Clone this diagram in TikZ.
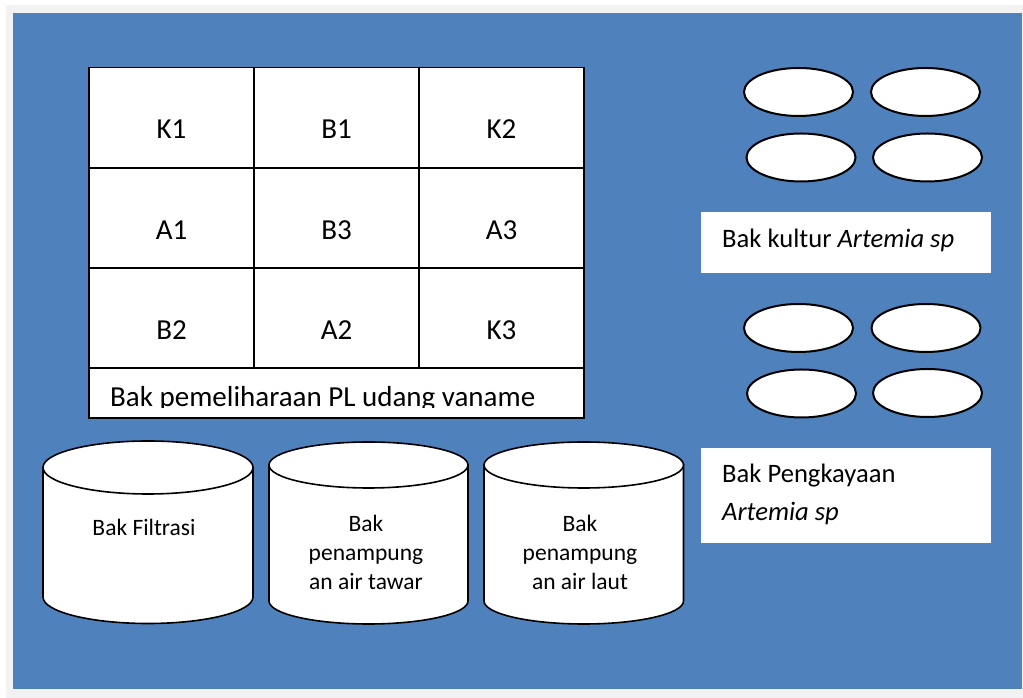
\documentclass[tikz,border=0pt]{standalone}
\usepackage{fontspec}
\setmainfont{Carlito}
\usetikzlibrary{shapes.geometric}
\definecolor{bgblue}{HTML}{4F81BD}
\definecolor{framegray}{HTML}{F2F2F2}
\tikzset{
  cellbox/.style={draw=black,line width=1.6pt,fill=white,minimum width=165pt,minimum height=100pt,inner sep=0pt},
  bigtext/.style={font=\fontsize{29}{35}\selectfont,inner sep=0pt,anchor=base},
  boxtext/.style={font=\fontsize{26.6}{32}\selectfont,inner sep=0pt,anchor=base west},
  smalltext/.style={font=\fontsize{23.5}{29}\selectfont,inner sep=0pt,anchor=base},
  pond/.style={ellipse,draw=black,line width=2pt,fill=white,minimum width=109pt,minimum height=48pt,inner sep=0pt},
  labelbox/.style={fill=white,inner sep=0pt},
  tank/.style={draw=black,line width=1.6pt,fill=white},
}
\begin{document}
\begin{tikzpicture}[x=1pt,y=1pt]
\useasboundingbox (0,0) rectangle (1023,698);
\fill[white] (0,0) rectangle (1023,698);
\fill[framegray] (6,0) rectangle (1023,693);
\fill[bgblue] (13,9) rectangle (1022,685);

% grid
\node[cellbox] (c11) at (171.5,580.5) {};
\node[cellbox] (c12) at (336.5,580.5) {};
\node[cellbox] (c13) at (501.5,580.5) {};
\node[cellbox] (c21) at (171.5,480) {};
\node[cellbox] (c22) at (336.5,480) {};
\node[cellbox] (c23) at (501.5,480) {};
\node[cellbox] (c31) at (171.5,380) {};
\node[cellbox] (c32) at (336.5,380) {};
\node[cellbox] (c33) at (501.5,380) {};
\node[bigtext] (t11) at (171.5,559.7) {K1};
\node[bigtext] (t12) at (336.5,559.7) {B1};
\node[bigtext] (t13) at (501.5,559.7) {K2};
\node[bigtext] (t21) at (171.5,458.7) {A1};
\node[bigtext] (t22) at (336.5,458.7) {B3};
\node[bigtext] (t23) at (501.5,458.7) {A3};
\node[bigtext] (t31) at (171.5,358.7) {B2};
\node[bigtext] (t32) at (336.5,358.7) {A2};
\node[bigtext] (t33) at (501.5,358.7) {K3};
\node[draw=black,line width=1.6pt,fill=white,minimum width=495pt,minimum height=50pt,inner sep=0pt] (lab) at (336.5,305) {};
\begin{scope}
\clip (89,290) rectangle (584,328);
\node[bigtext,anchor=base west] (labtext) at (110,291) {Bak pemeliharaan PL udang vaname};
\end{scope}

% ponds
\node[pond] (e1) at (798.5,606) {};
\node[pond] (e2) at (925.5,606) {};
\node[pond] (e3) at (801,540.5) {};
\node[pond] (e4) at (927.5,540.5) {};
\node[pond] (e5) at (798.5,370) {};
\node[pond] (e6) at (926,370) {};
\node[pond] (e7) at (801.5,304.5) {};
\node[pond] (e8) at (927.5,305) {};

% label boxes
\node[labelbox,minimum width=290pt,minimum height=61pt] (box1) at (846,455.5) {};
\node[boxtext] (box1t) at (722,450) {Bak kultur \textit{Artemia sp}};
\node[labelbox,minimum width=290pt,minimum height=95pt] (box2) at (846,202.5) {};
\node[boxtext] (box2a) at (722,215) {Bak Pengkayaan};
\node[boxtext] (box2b) at (722,177.3) {\textit{Artemia sp}};

% tanks
\filldraw[tank] (43,230.5) -- (43,101) arc[start angle=180,end angle=360,x radius=105pt,y radius=26.5pt] -- (253,230.5) -- cycle;
\filldraw[tank] (148,230.5) ellipse[x radius=105pt,y radius=26.5pt];
\filldraw[tank] (269,233) -- (269,97) arc[start angle=180,end angle=360,x radius=99.5pt,y radius=23pt] -- (468,233) -- cycle;
\filldraw[tank] (368.5,233) ellipse[x radius=99.5pt,y radius=23pt];
\filldraw[tank] (484,233) -- (484,97) arc[start angle=180,end angle=360,x radius=99.75pt,y radius=23pt] -- (683.5,233) -- cycle;
\filldraw[tank] (583.75,233) ellipse[x radius=99.75pt,y radius=23pt];
\node[smalltext] (k1) at (144,162.4) {Bak Filtrasi};
\node[smalltext] (k2a) at (366,166.4) {Bak};
\node[smalltext] (k2b) at (366,137.4) {penampung};
\node[smalltext] (k2c) at (366,108.4) {an air tawar};
\node[smalltext] (k3a) at (580,166.4) {Bak};
\node[smalltext] (k3b) at (580,137.4) {penampung};
\node[smalltext] (k3c) at (580,108.4) {an air laut};
\end{tikzpicture}
\end{document}
